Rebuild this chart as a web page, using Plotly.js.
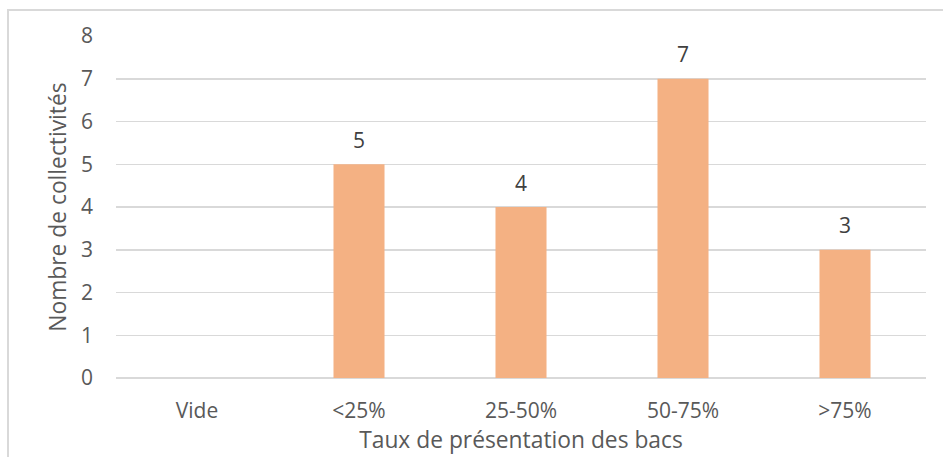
<!DOCTYPE html>
<html>
<head>
<meta charset="utf-8">
<script src="https://cdn.plot.ly/plotly-3.0.1.min.js"></script>
<style>
html,body{margin:0;padding:0;background:#fff;}
#frame{position:absolute;left:7px;top:9px;width:960px;height:480px;border:2px solid #d9d9d9;box-sizing:border-box;}
#chart{position:absolute;left:0;top:0;width:943px;height:457px;}
</style>
</head>
<body>
<div id="frame"></div>
<div id="chart"></div>
<script>
const categories = ["Vide", "<25%", "25-50%", "50-75%", ">75%"];
const values = [0, 5, 4, 7, 3];
const labels = ["", "5", "4", "7", "3"];
const yTicks = [0, 1, 2, 3, 4, 5, 6, 7, 8];

const fontFam = "'Open Sans', sans-serif";

const annotations = categories.map((c, i) => labels[i] ? ({
  x: c, y: values[i], xref: "x", yref: "y", text: labels[i],
  showarrow: false, yanchor: "bottom", yshift: 8.5,
  font: {family: fontFam, size: 21, color: "#404040"}
}) : null).filter(a => a);

const trace = {
  type: "bar",
  x: categories,
  y: values,
  marker: {color: "#F4B183"},
  hoverinfo: "skip"
};

const layout = {
  width: 943, height: 457,
  margin: {l: 116, r: 17, t: 36, b: 79},
  paper_bgcolor: "rgba(0,0,0,0)",
  plot_bgcolor: "rgba(0,0,0,0)",
  bargap: 0.685,
  showlegend: false,
  font: {family: fontFam, color: "#595959"},
  xaxis: {
    type: "category",
    tickfont: {family: fontFam, size: 21, color: "#595959"},
    ticklabelstandoff: 18,
    showline: false, showgrid: false, zeroline: false, ticks: "",
    title: {text: "Taux de présentation des bacs", font: {family: fontFam, size: 22.8, color: "#595959"}, standoff: 9}
  },
  yaxis: {
    range: [0, 8],
    tickvals: yTicks,
    ticktext: yTicks.map(String),
    tickfont: {family: fontFam, size: 21, color: "#595959"},
    ticklabelstandoff: 22,
    showgrid: true, gridcolor: "#d9d9d9", gridwidth: 1.5,
    zeroline: true, zerolinecolor: "#d9d9d9", zerolinewidth: 1.5,
    ticks: "",
    title: {text: "Nombre de collectivités", font: {family: fontFam, size: 22.8, color: "#595959"}, standoff: 8}
  },
  annotations: annotations
};

Plotly.newPlot("chart", [trace], layout, {displayModeBar: false, staticPlot: true});
</script>
</body>
</html>
